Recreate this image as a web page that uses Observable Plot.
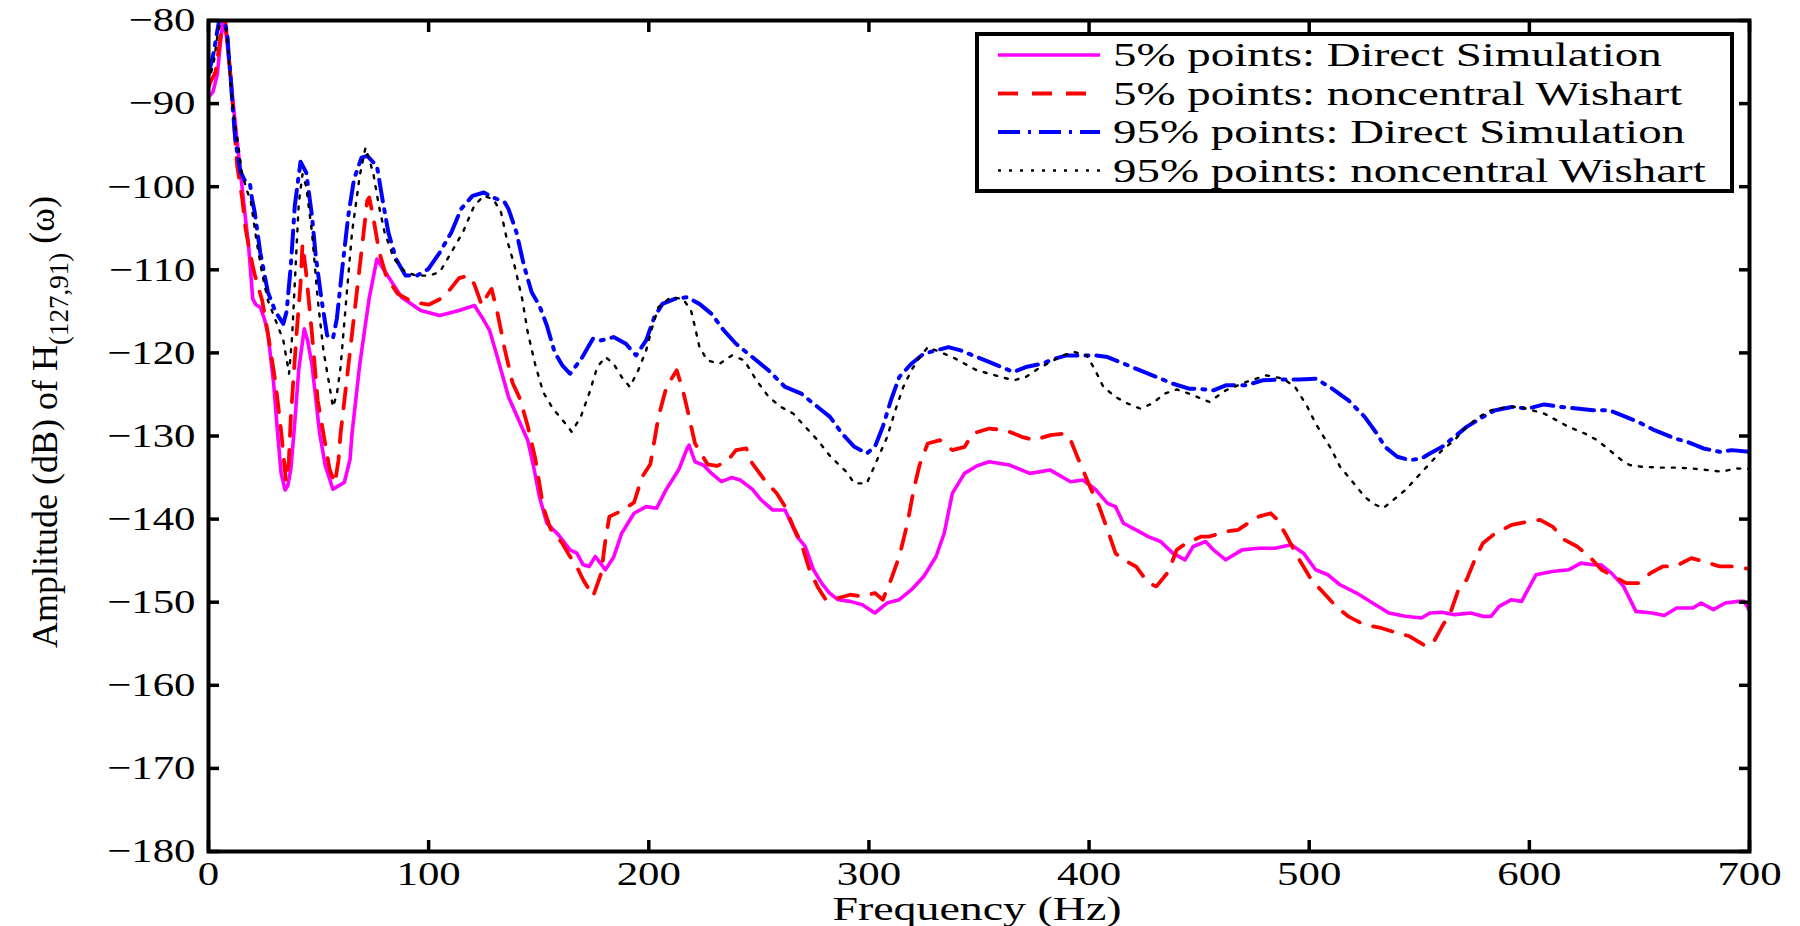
<!DOCTYPE html>
<html>
<head>
<meta charset="utf-8">
<script src="https://cdn.jsdelivr.net/npm/d3@7"></script>
<script src="https://cdn.jsdelivr.net/npm/@observablehq/plot@0.6"></script>
<style>
  html, body { margin: 0; padding: 0; background: #fff; }
  svg { display: block; }
</style>
</head>
<body>
<div id="chart"></div>
<script>
// ---------- data ----------
const xTicks = [0, 100, 200, 300, 400, 500, 600, 700];
const yTicks = [-180, -170, -160, -150, -140, -130, -120, -110, -100, -90, -80];

const seriesNames = [
  "5% points: Direct Simulation",
  "5% points: noncentral Wishart",
  "95% points: Direct Simulation",
  "95% points: noncentral Wishart"
];

// 5% points: Direct Simulation (magenta, solid)
const magentaHz = [0,2,4,5.5,6.5,8,10,11.4,13.7,16,18.3,20.1,21.5,23.5,25.5,27,29.6,31.4,33,34.8,36,37.4,39,41,43.5,45,47,50.5,53,56.5,59,61.7,64.3,65.2,68.7,73,76.5,80.9,87.7,96.4,105,113.8,120.8,124.2,127.7,131.2,136.3,141.6,145,147.7,150.3,153.7,159,164.2,167.3,170.2,172.9,175.7,178,180.3,184,187.7,193.3,198.8,203.5,208,213.7,217.4,218.3,221,224.8,228.5,233,237.6,241.5,247,250.7,256.2,261.9,267.4,271.1,274.8,278.5,282.1,286,291.5,297,302.7,308.2,313.8,319.3,324.9,330.5,334.2,337.9,343.4,349,354.6,363.9,373.1,382.4,391.6,397.2,402.8,408.4,412,415.6,421.3,426.9,432.5,438,443.6,447.3,452.9,456.5,462.1,469.5,477,484.4,491.8,497.4,502.9,508.5,514,521.5,528.8,536.2,543.7,551,554.8,560.3,566,573.3,578.9,582.6,586.3,591.9,596.5,599.3,603,610.4,617.8,623.4,629,632.6,637.3,642.8,648.4,655.8,661.3,666.9,674.3,678,683.6,689,694.9,697.6,700];
const magentaDb = [-89.2,-88.6,-86.5,-82.5,-80.3,-81.6,-86.5,-90.5,-96.2,-101.9,-107.4,-113.5,-114.2,-114.5,-116,-117.7,-123.7,-129.7,-134.5,-136.5,-136,-134,-129,-122,-117.1,-118.5,-121.4,-129.7,-133.5,-136.4,-136,-135.6,-132.8,-129.7,-121.4,-113.4,-108.7,-110.5,-113.3,-114.9,-115.5,-114.9,-114.3,-115.7,-117.3,-120.5,-125.3,-128.5,-130.5,-133.7,-137.3,-140.5,-141.9,-143.7,-144.1,-145.5,-145.7,-144.5,-145.3,-146.1,-144.6,-141.7,-139.3,-138.5,-138.7,-136.4,-134,-131.5,-131.1,-133.1,-133.5,-134.5,-135.5,-135,-135.3,-136.4,-137.6,-138.9,-138.9,-142.1,-143.3,-146.1,-147.7,-148.9,-149.7,-149.9,-150.3,-151.3,-150.1,-149.7,-148.5,-146.9,-144.5,-141.7,-136.9,-134.5,-133.6,-133.1,-133.5,-134.5,-134.1,-135.5,-135.3,-136.4,-138.1,-138.5,-140.5,-141.3,-142.1,-142.7,-144.1,-144.9,-143.3,-142.7,-143.7,-144.9,-143.7,-143.5,-143.5,-143.1,-144.1,-146.1,-146.7,-147.9,-148.9,-150.1,-151.3,-151.7,-151.9,-151.3,-151.2,-151.5,-151.3,-151.7,-151.7,-150.5,-149.7,-149.9,-148.5,-146.7,-146.3,-146.1,-145.3,-145.5,-145.5,-146.5,-148.1,-151.1,-151.3,-151.6,-150.7,-150.7,-150.1,-150.9,-150.1,-149.9,-149.9,-151];

// 5% points: noncentral Wishart (red, dashed)
const redHz = [0,0.9,3.2,4.7,6,7.7,9.2,10.8,13,15.3,16.8,19,20.9,24.4,27,30.5,33.1,35.2,36.5,37.4,40,41.8,42.7,44.4,47,49.6,52.2,55,57.4,59,60,62.6,65.2,67.8,70.4,72.1,73,74.8,77.4,80.9,86,93,100,106.9,113.8,118.2,120.7,124.2,126.8,128.6,131.2,134.6,138.1,141.6,145,148.5,152,155.4,160.7,163.3,167.6,170.2,174.7,178.4,180.3,182.1,187.7,193.3,197,200.7,204.4,208,212.7,215.5,218.3,221,226.7,231,235.8,239.6,244.3,247,252.6,258.1,261.9,265.6,269.3,273,276.6,280.4,286,291.5,297,302.7,306.3,310,313.8,317.5,320.3,323,326.7,332.3,337.9,343.5,347.2,354.6,362,369.4,375,382.4,388.9,391.6,395.3,400.9,404.6,408.4,412,415.7,421.3,426.9,430.6,436.1,439.8,443.6,451,454.7,462.1,467.7,473.3,477,482.5,485.3,489.9,495.5,501,506.6,512.2,517.7,525,532.6,540,545.6,553,556.7,560.4,564.1,567.8,571.5,575.2,578.9,584.5,592,599.3,604.9,610.5,616,621.7,627.3,632.8,638.4,644,649.5,655,660.6,666.2,673.6,679.2,686.5,692,700];
const redDb = [-88,-87.4,-86.2,-83.4,-81,-80.2,-84.2,-89.4,-97.4,-101.4,-105,-108.2,-110.5,-113.7,-117.7,-123.7,-129.7,-135.5,-133,-127.7,-117.7,-111.7,-106.9,-110.5,-117.7,-125.7,-129.7,-134,-135.7,-133,-129.7,-123.7,-117.7,-111.7,-105.7,-101.7,-101.3,-103.6,-107.7,-110.9,-112.9,-113.9,-114.2,-113.3,-111,-110.7,-111.7,-114.3,-113,-112.3,-115.1,-119.6,-123.6,-125.6,-128.8,-132.8,-138.5,-141.2,-142.9,-144.1,-145.9,-147.3,-149.3,-146.5,-142.5,-139.7,-139,-138,-134.9,-133.4,-127.7,-124.1,-122.1,-124.5,-127.7,-130.9,-133.4,-133.6,-133,-131.7,-131.5,-133.3,-135.3,-136.9,-138.5,-140.9,-142.9,-146.1,-148.1,-149.7,-149.5,-149.1,-149.3,-148.9,-149.7,-147.3,-144.5,-140.5,-136.5,-133.5,-130.9,-130.5,-131.7,-131.3,-129.7,-129.1,-129.3,-130.1,-130.5,-129.9,-129.7,-130.5,-132.9,-136.4,-138.5,-141.3,-144.1,-144.9,-145.7,-147.7,-148.1,-146.3,-143.7,-143,-142.1,-142.1,-141.5,-141.3,-140.3,-139.7,-139.3,-140,-142.1,-144.9,-147.3,-148.9,-150.5,-151.7,-152.7,-153.1,-153.7,-154.1,-155.3,-154.7,-152.9,-151.3,-148.5,-147.3,-144.9,-142.9,-141.7,-140.7,-140.3,-140.1,-140.9,-142.5,-143.3,-144.5,-146.1,-146.9,-147.7,-147.7,-146.5,-145.7,-145.7,-144.7,-145.1,-145.7,-145.7,-146];

// 95% points: Direct Simulation (blue, dash-dot)
const blueHz = [0,2.4,3.9,5,6.5,8.5,9.2,10,10.8,12.3,14.5,16.6,18.8,19.8,21,23.5,27,30.5,34,35.5,37.4,39.2,41.8,44.4,47,48.7,51.3,53.9,56.5,58.3,60.9,63.5,66.1,69.5,72.1,76.5,79,81.7,85.2,89.5,94.7,99.9,105.1,110.3,114.7,119.9,125.1,129.4,134.6,136.3,139.9,143.3,146.8,150.3,153.7,157.2,160.7,164.2,169.4,174.6,178.4,184,189.6,194.2,198.8,202.5,206.2,211.8,217.4,223,228.5,234.1,239.6,247,254.4,261.9,269.3,274.8,282.3,287.8,293.4,299,302.7,306.3,310,313.8,319.3,324.9,330.5,336.1,341.6,347.2,352.8,360.1,365.7,371.3,378.7,384.3,389.8,395.4,402.8,408.4,415.8,423.2,430.6,438,445.4,449.1,456.5,462.1,471.4,478.8,488.1,495.5,503,510.4,517.8,525.2,530.7,534.4,540,545.6,551.1,554.8,560.4,566,571.5,578.9,584.5,592,599.3,606.7,614.1,621.5,629,636.4,643.8,649.4,656.8,666.1,671.7,679.1,686.5,692,700];
const blueDb = [-86.5,-83.8,-81.4,-79.8,-79.5,-81.4,-84.2,-86.6,-89.8,-94.6,-98.2,-99.3,-99.6,-101.5,-103.1,-107.9,-112.7,-115.1,-116.5,-115,-109.5,-102.3,-97,-98.3,-103.5,-108.3,-113.5,-117.9,-118.3,-115.9,-109.5,-103.5,-99.1,-96.5,-96.3,-97.5,-101.5,-105.5,-108.7,-110.7,-110.7,-109.9,-107.9,-105.5,-102.7,-101.1,-100.7,-101.3,-101.9,-102.7,-105.5,-109.5,-112.7,-114.3,-116.7,-119.9,-121.5,-122.5,-120.7,-118.3,-118.5,-118.1,-118.9,-120.3,-118.5,-115.7,-114.1,-113.5,-113.3,-114.1,-115.3,-117.3,-118.9,-120.5,-122.1,-124.1,-124.9,-126.1,-127.7,-129.7,-131.3,-132.1,-131.3,-128.9,-125.7,-122.9,-121.3,-120.1,-119.7,-119.3,-119.7,-120.3,-120.9,-121.7,-122.3,-121.7,-121.3,-120.7,-120.3,-120.3,-120.3,-120.5,-121.3,-122.1,-122.9,-123.7,-124.3,-124.3,-124.5,-123.9,-123.9,-123.3,-123.2,-123.2,-123.1,-124.3,-125.7,-127.7,-129.7,-131.3,-132.5,-132.9,-132.7,-132.1,-131.3,-130.1,-128.9,-127.7,-126.9,-126.5,-126.7,-126.2,-126.5,-126.7,-126.9,-126.9,-127.7,-128.3,-129.3,-130.3,-130.7,-131.5,-131.9,-131.7,-131.9];

// 95% points: noncentral Wishart (black, dotted)
const blackHz = [0,2.4,4,5.5,7,8.5,10,11.5,13.5,15.3,17.5,19.2,21.8,24.4,27,30.5,34,36.6,38,39.5,41,42.7,44.4,47,49.6,52.2,54.8,56.5,58.3,60,62.6,65.2,68.7,71.3,74.8,77.4,80,84.3,89.5,94.7,100,105,110.3,115.5,120.7,125,129.4,132.9,135.5,139,142.5,145,148.5,152,156.4,161.5,165,169.1,172.9,176.6,180.3,184,187.7,191.4,195.2,198.8,201.6,204.4,210,215.5,219.2,221,223,226.6,232.2,237.8,243.4,248.9,254.5,260,265.6,271.1,276.7,282.3,289.7,293.4,299,302.7,308.3,312,315.6,319.3,323,326.8,332.3,337.9,343.5,349,354.6,360.1,365.7,371.3,376.9,382.4,388,393.5,399,402.8,406.5,412,417.6,423.2,428.7,434.3,439.9,445.4,454.7,462.1,471.4,480.6,488.1,493.6,499.2,502.9,506.6,510.3,514,517.8,521.5,525.2,528.8,533.5,538.2,543.7,549.2,554.8,560.4,566,571.5,577.1,582.6,590,595.7,601.2,606.7,612.3,617.8,625.2,630.8,636.4,641.9,645.6,651.2,658.6,666.1,673.5,680.9,687.3,694,700];
const blackDb = [-87.5,-85,-82,-80,-79.8,-82,-87.5,-91.4,-95,-98.5,-100.5,-101.7,-106.5,-110.5,-113.7,-116.1,-118.5,-122.5,-118,-110,-102,-98.5,-100,-105.5,-113.5,-119.7,-123.7,-126.5,-125,-121.7,-113.5,-105.5,-98.7,-95.3,-98.3,-102.3,-105.5,-108.7,-110.3,-110.7,-110.7,-110.3,-107.9,-105.5,-102.3,-101.1,-101.5,-103.1,-106.3,-109.5,-113.5,-117.5,-121.5,-124.7,-126.7,-128.3,-129.5,-127.7,-124.9,-121.7,-120.5,-121.3,-122.9,-124.1,-122.1,-119.7,-116.9,-114.5,-113.3,-113.5,-114.9,-116.9,-119.3,-120.9,-121.3,-120.3,-120.9,-123.3,-125.3,-126.5,-127.3,-128.9,-130.5,-132.4,-134.3,-135.7,-135.7,-133.5,-130.1,-126.9,-124.1,-122.1,-120.5,-119.3,-119.9,-120.5,-121.3,-122.1,-122.5,-122.9,-123.3,-122.9,-121.9,-121.1,-120.3,-119.9,-120.3,-122.1,-124.1,-125.3,-126.1,-126.7,-126.1,-124.9,-124.4,-124.9,-125.9,-124.5,-123.5,-122.7,-123.1,-124.1,-126.5,-128.5,-130.1,-131.7,-133.7,-134.9,-136.1,-137.3,-138.1,-138.7,-137.7,-136.5,-134.9,-133.3,-131.7,-130.5,-128.9,-127.7,-126.9,-126.5,-126.5,-126.9,-127.3,-128.1,-128.9,-129.7,-130.5,-131.7,-132.9,-133.5,-133.7,-133.8,-133.8,-133.9,-134.1,-134.3,-133.9,-134];

// ---------- styles ----------
const FONT = "'Liberation Serif', 'Times New Roman', serif";
const styles = [
  {stroke: "#ff00ff", width: 3.6, dash: null},
  {stroke: "#ff0000", width: 3.8, dash: "20,14"},
  {stroke: "#0000ff", width: 4, dash: "22,8,3,8"},
  {stroke: "#000000", width: 2.4, dash: "3,8"}
];
const hzArrays = [magentaHz, redHz, blueHz, blackHz];
const dbArrays = [magentaDb, redDb, blueDb, blackDb];

const lineMarks = hzArrays.map((hz, k) =>
  Plot.line(d3.range(hz.length), {
    x: i => hz[i],
    y: i => dbArrays[k][i],
    stroke: styles[k].stroke,
    strokeWidth: styles[k].width,
    strokeDasharray: styles[k].dash,
    clip: true
  })
);

const tickStyle = {strokeWidth: 3.5, label: null, tickFormat: () => ""};

const plot = Plot.plot({
  width: 1800,
  height: 926,
  marginLeft: 208,
  marginRight: 51,
  marginTop: 20,
  marginBottom: 75,
  style: {fontFamily: FONT, fontSize: "34px", background: "#fff", color: "#000", overflow: "visible"},
  x: {domain: [0, 700]},
  y: {domain: [-180, -80]},
  marks: [
    ...lineMarks,
    Plot.axisX({anchor: "bottom", ticks: xTicks, tickSize: 0, tickPadding: 9, label: null, fontSize: 34}),
    Plot.axisY({anchor: "left", ticks: yTicks, tickSize: 0, tickPadding: 13, label: null, fontSize: 34}),
    Plot.axisX({anchor: "bottom", ticks: xTicks, tickSize: -11, ...tickStyle}),
    Plot.axisX({anchor: "top", ticks: xTicks, tickSize: -11, ...tickStyle}),
    Plot.axisY({anchor: "left", ticks: yTicks, tickSize: -11, ...tickStyle}),
    Plot.axisY({anchor: "right", ticks: yTicks, tickSize: -11, ...tickStyle}),
    Plot.frame({stroke: "#000", strokeWidth: 4})
  ]
});

// horizontal stretch of tick labels (the reference text is widened)
const svg = d3.select(plot);
svg.selectAll("text").each(function () {
  const t = this.getAttribute("transform") || "";
  const x = parseFloat(this.getAttribute("x")) || 0;
  if (this.hasAttribute("x")) this.removeAttribute("x");
  this.setAttribute("transform", `${t} translate(${x},0) scale(1.26,1)`.trim());
});

// x-axis title
svg.append("text")
  .attr("transform", "translate(977,920) scale(1.35,1)")
  .attr("text-anchor", "middle")
  .attr("font-family", FONT)
  .attr("font-size", 34)
  .attr("fill", "#000")
  .text("Frequency (Hz)");

// y-axis title with subscript
const yl = svg.append("text")
  .attr("transform", "translate(57,422) rotate(-90)")
  .attr("text-anchor", "middle")
  .attr("font-family", FONT)
  .attr("font-size", 36)
  .attr("fill", "#000");
yl.append("tspan").text("Amplitude (dB) of H");
yl.append("tspan").attr("dy", 11).attr("font-size", 27).text("(127,91)");
yl.append("tspan").attr("dy", -14).text(" (ω)");

// legend box
const lg = svg.append("g").attr("text-anchor", "start");
lg.append("rect")
  .attr("x", 977).attr("y", 34).attr("width", 755).attr("height", 157)
  .attr("fill", "#fff").attr("stroke", "#000").attr("stroke-width", 4);
seriesNames.forEach((name, i) => {
  const y = 55 + i * 38.5;
  lg.append("line")
    .attr("x1", 998).attr("x2", 1100).attr("y1", y).attr("y2", y)
    .attr("stroke", styles[i].stroke)
    .attr("stroke-width", styles[i].width)
    .attr("stroke-dasharray", styles[i].dash);
  lg.append("text")
    .attr("transform", `translate(1113,${y + 11}) scale(1.38,1)`)
    .attr("text-anchor", "start")
    .attr("font-family", FONT)
    .attr("font-size", 34)
    .attr("fill", "#000")
    .text(name);
});

document.getElementById("chart").appendChild(plot);
</script>
</body>
</html>
